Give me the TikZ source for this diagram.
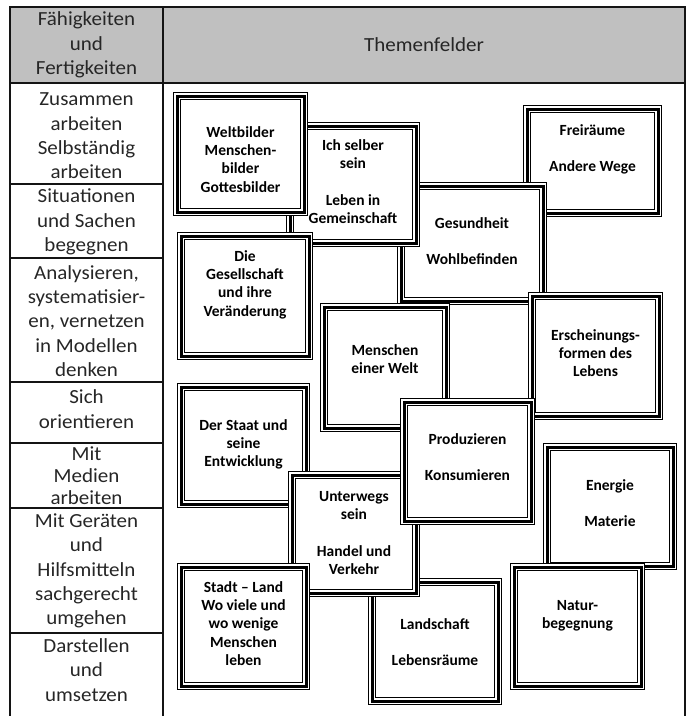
\documentclass[tikz,border=0pt]{standalone}
\usepackage{fontspec}
\setmainfont{Carlito}
\newfontfamily\skillfont{Carlito}[FakeStretch=1.05]
\definecolor{headgray}{RGB}{192,192,192}
\definecolor{rulecol}{RGB}{20,20,20}

% one framed topic: name, x1, y1, x2, y2 (outer frame edges), centre of first line, text
\newcommand\topicbox[7]{%
  \node[topic, anchor=north west] (#1) at (#2,#3)
    {\parbox[c][\dimexpr #5pt-#3pt-8pt\relax][t]{\dimexpr #4pt-#2pt-8pt\relax}{%
      \centering\vspace*{\dimexpr #6pt-#3pt-11.8pt\relax}\strut #7\par}};}
\newcommand\gapline{\\[18.4pt]}

\begin{document}
\begin{tikzpicture}[x=1pt,y=-1pt,
  rule/.style={line width=1.8pt, draw=rulecol},
  skill/.style={font=\skillfont\fontsize{20}{24.3}\selectfont, align=center, inner sep=0pt, text=black!85},
  topic/.style={fill=white, draw=black, line width=8pt, inner sep=0pt,
    postaction={draw=white, line width=5.2pt},
    postaction={draw=black, line width=3pt},
    font=\fontsize{15.5}{18.4}\selectfont\bfseries}]
\useasboundingbox (0,0) rectangle (688,716);

% table frame
\fill[headgray] (10,7) rectangle (685,83);
\draw[rule] (10,716) -- (10,7) -- (685,7) -- (685,716);
\draw[rule] (163,7) -- (163,716);
\draw[rule] (10,83) -- (685,83);
\foreach \y in {184,258,382,443,508,633}
  \draw[rule] (10,\y) -- (163,\y);

% header
\node[skill] (head-skills) at (86.5,45) {Fähigkeiten\\und\\Fertigkeiten};
\node[skill] (head-topics) at (424,45) {Themenfelder};

% skills column
\node[skill] (sk1) at (86.5,136) {Zusammen\\arbeiten\\Selbständig\\arbeiten};
\node[skill] (sk2) at (86.5,222) {Situationen\\und Sachen\\begegnen};
\node[skill] (sk3) at (86.5,321) {Analysieren,\\systematisier-\\en, vernetzen\\in Modellen\\denken};
\node[skill] (sk4) at (86.5,409) {Sich\\orientieren};
\node[skill, font=\skillfont\fontsize{20}{22}\selectfont] (sk5) at (86.5,476) {Mit\\Medien\\arbeiten};
\node[skill] (sk6) at (86.5,571) {Mit Geräten\\und\\Hilfsmitteln\\sachgerecht\\umgehen};
\node[skill] (sk7) at (86.5,670) {Darstellen\\und\\umsetzen};

% topic boxes, back to front
\topicbox{frei}{523}{105}{662}{217}{130}{Freiräume\gapline Andere Wege}
\topicbox{gesund}{397}{182}{547}{305}{223}{Gesundheit\gapline Wohlbefinden}
\topicbox{ich}{286}{122}{420}{247}{145}{Ich selber\\sein\gapline Leben in\\Gemeinschaft}
\topicbox{welt}{173}{92}{308}{216}{132}{Weltbilder\\Menschen-\\bilder\\Gottesbilder}
\topicbox{gesell}{177}{232}{313}{360}{256}{Die\\Gesellschaft\\und ihre\\Veränderung}
\topicbox{menschen}{320}{303}{450}{432}{350}{Menschen\\einer Welt}
\topicbox{erschein}{528}{292}{663}{420}{335}{Erscheinungs-\\formen des\\Lebens}
\topicbox{staat}{177}{383}{310}{508}{425}{Der Staat und\\seine\\Entwicklung}
\topicbox{land}{368}{578}{502}{705}{624}{Landschaft\gapline Lebensräume}
\topicbox{unterwegs}{288}{471}{420}{597}{496}{Unterwegs\\sein\gapline Handel und\\Verkehr}
\topicbox{prod}{400}{398}{535}{525}{439}{Produzieren\gapline Konsumieren}
\topicbox{stadt}{177}{563}{310}{690}{587}{Stadt – Land\\Wo viele und\\wo wenige\\Menschen\\leben}
\topicbox{energie}{543}{443}{677}{570}{485}{Energie\gapline Materie}
\topicbox{natur}{510}{563}{645}{690}{605}{Natur-\\begegnung}
\end{tikzpicture}
\end{document}
